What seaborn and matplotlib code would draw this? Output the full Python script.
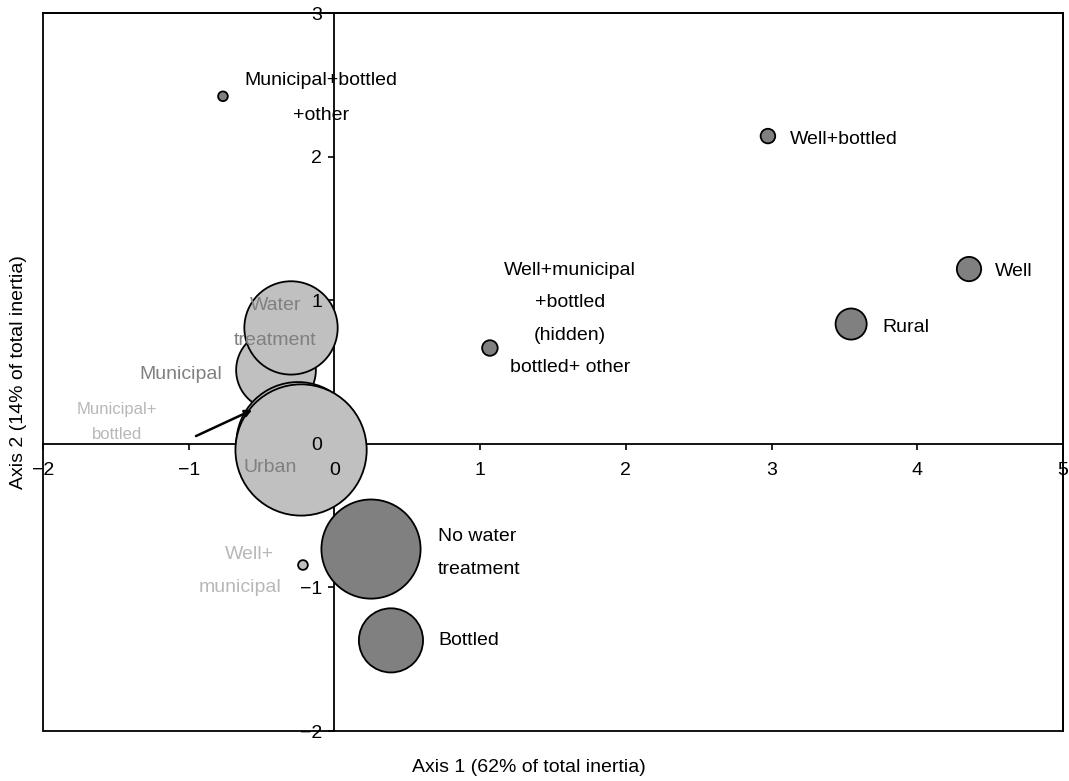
import matplotlib
matplotlib.use("Agg")
import matplotlib.pyplot as plt
from matplotlib.patches import Rectangle
import numpy as np
import pandas as pd
import seaborn as sns

# ---- data (correspondence analysis coordinates) ----
categories = ["Municipal", "Municipal+bottled", "Water treatment", "Urban",
              "No water treatment", "Bottled", "Well+municipal",
              "Municipal+bottled+other", "Well+bottled", "Well", "Rural",
              "Well+municipal+bottled"]
axis1 = [-0.401, -0.250, -0.298, -0.229, 0.251, 0.388, -0.216,
         -0.765, 2.975, 4.355, 3.546, 1.067]
axis2 = [0.513, 0.000, 0.807, -0.043, -0.733, -1.369, -0.844,
         2.420, 2.143, 1.217, 0.834, 0.667]
mass = [41, 63.5, 48, 67.5, 51, 33, 5, 5, 7.5, 12.5, 16, 8]
profile = ["urban", "urban", "urban", "urban", "rural", "rural", "urban",
           "rural", "rural", "rural", "rural", "rural"]

xticks = [-2, -1, 0, 1, 2, 3, 4, 5]
yticks = [-2, -1, 0, 1, 2, 3]
xlabel = "Axis 1 (62% of total inertia)"
ylabel = "Axis 2 (14% of total inertia)"

df = pd.DataFrame({"category": categories, "axis1": axis1, "axis2": axis2,
                   "mass": mass, "profile": profile})

# ---- style ----
sns.set_theme(style="ticks")
plt.rcParams["font.family"] = ["Liberation Sans", "DejaVu Sans"]

fig = plt.figure(figsize=(10.69, 7.81), dpi=100)
ax = fig.add_axes([43 / 1069, 1 - 731 / 781, 1020 / 1069, 718 / 781])

sizes = {m: (1.40 * m) ** 2 for m in mass}
sns.scatterplot(data=df, x="axis1", y="axis2", size="mass", sizes=sizes,
                hue="profile", palette={"urban": "#c0c0c0", "rural": "#808080"},
                edgecolor="black", linewidth=1.3, legend=False, ax=ax, zorder=2)

ax.set_xlim(-2, 5)
ax.set_ylim(-2, 3)
ax.set_xticks(xticks)
ax.set_yticks(yticks)
ax.set_axisbelow(False)

for side in ["left", "bottom"]:
    ax.spines[side].set_position(("data", 0))
    ax.spines[side].set_zorder(1.5)
for side in ax.spines:
    ax.spines[side].set_color("black")
    ax.spines[side].set_linewidth(1.3)
ax.add_patch(Rectangle((0, 0), 1, 1, transform=ax.transAxes, fill=False,
                       ec="black", lw=1.3, clip_on=False, zorder=1.5))

ax.tick_params(axis="both", direction="out", length=4, width=1.2,
               color="black", labelcolor="black", labelsize=14)
ax.tick_params(axis="x", pad=9)
ax.tick_params(axis="y", pad=5)

# tick marks at the origin are covered by the Urban bubble in the reference
ax.xaxis.get_major_ticks()[xticks.index(0)].tick1line.set_visible(False)
ax.yaxis.get_major_ticks()[yticks.index(0)].tick1line.set_visible(False)

ax.set_xlabel(xlabel, fontsize=14, color="black")
ax.set_ylabel(ylabel, fontsize=14, color="black")
ax.xaxis.set_label_coords(0.476, -0.039)
ax.yaxis.set_label_coords(-0.016, 0.5)

# ---- point labels (text, x, y, ha, color, size) ----
BLACK, MID, LIGHT = "black", "#808080", "#b8b8b8"
labels = [
    ("Municipal+bottled", -0.092, 2.533, "center", BLACK, 14),
    ("+other", -0.092, 2.283, "center", BLACK, 14),
    ("Well+bottled", 3.127, 2.116, "left", BLACK, 14),
    ("Well", 4.534, 1.197, "left", BLACK, 14),
    ("Rural", 3.758, 0.813, "left", BLACK, 14),
    ("Well+municipal", 1.617, 1.210, "center", BLACK, 14),
    ("+bottled", 1.617, 0.987, "center", BLACK, 14),
    ("(hidden)", 1.617, 0.751, "center", BLACK, 14),
    ("bottled+ other", 1.617, 0.528, "center", BLACK, 14),
    ("Water", -0.405, 0.960, "center", MID, 14),
    ("treatment", -0.409, 0.720, "center", MID, 14),
    ("Municipal", -1.056, 0.485, "center", MID, 14),
    ("Municipal+", -1.492, 0.242, "center", LIGHT, 12),
    ("bottled", -1.492, 0.068, "center", LIGHT, 12),
    ("Urban", -0.438, -0.165, "center", MID, 14),
    ("Well+", -0.586, -0.774, "center", LIGHT, 14),
    ("municipal", -0.648, -1.004, "center", LIGHT, 14),
    ("No water", 0.711, -0.643, "left", BLACK, 14),
    ("treatment", 0.711, -0.872, "left", BLACK, 14),
    ("Bottled", 0.711, -1.373, "left", BLACK, 14),
]
for txt, x, y, ha, col, fs in labels:
    ax.text(x, y, txt, ha=ha, va="center", color=col, fontsize=fs, zorder=3)

ax.annotate("", xy=(-0.565, 0.235), xytext=(-0.950, 0.054),
            arrowprops=dict(arrowstyle="-|>", color="black", lw=1.8,
                            mutation_scale=10, shrinkA=0, shrinkB=0),
            zorder=4)

fig.savefig("out.png", dpi=100)
